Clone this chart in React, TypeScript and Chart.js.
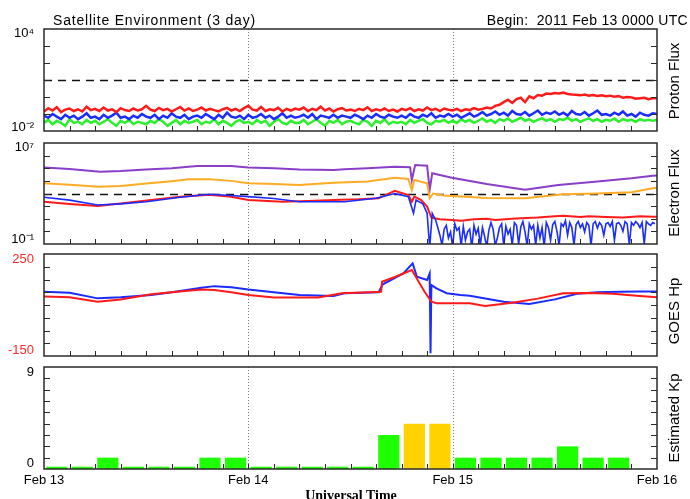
import React, { useEffect, useRef } from 'react';
import { Chart, registerables } from 'chart.js';

Chart.register(...registerables);

const FONT = "'Liberation Sans', Arial, sans-serif";

// ===== Time axis: hours since 2011 Feb 13 00 UT =====
const DAY_HOURS = [0, 24, 48, 72];
const DAY_LABELS = ['Feb 13', 'Feb 14', 'Feb 15', 'Feb 16'];
const DAY_LINES = [24, 48];
const MINOR_TICK_HOURS = [3, 6, 9, 12, 15, 18, 21, 24, 27, 30, 33, 36, 39, 42, 45, 48, 51, 54, 57, 60, 63, 66, 69];
const SAMPLE_STEP_H = 0.5;

// ===== Panel 1: Proton flux (pfu), half-hourly from 00 UT Feb 13 =====
const protonTicks = [0.01, 0.1, 1, 10, 100, 1000, 10000];
const protonThreshold = 10;
const protonRed = [
  0.14, 0.22, 0.16, 0.25, 0.13, 0.18, 0.21, 0.15, 0.19, 0.14, 0.27, 0.17,
  0.2, 0.15, 0.24, 0.16, 0.19, 0.13, 0.22, 0.17, 0.15, 0.21, 0.16, 0.19,
  0.3, 0.18, 0.15, 0.23, 0.17, 0.2, 0.14, 0.19, 0.26, 0.16, 0.21, 0.15,
  0.18, 0.24, 0.16, 0.2, 0.17, 0.14, 0.19, 0.23, 0.16, 0.2, 0.15, 0.22,
  0.3, 0.18, 0.16, 0.26, 0.15, 0.19, 0.17, 0.23, 0.14, 0.2, 0.16, 0.21,
  0.18, 0.24, 0.15, 0.2, 0.17, 0.27, 0.16, 0.21, 0.14, 0.19, 0.22, 0.16,
  0.18, 0.15, 0.2, 0.17, 0.25, 0.15, 0.19, 0.16, 0.21, 0.15, 0.18, 0.14,
  0.2, 0.17, 0.22, 0.15, 0.19, 0.16, 0.24, 0.17, 0.2, 0.15, 0.21, 0.18,
  0.16, 0.2, 0.15, 0.19, 0.17, 0.22, 0.18, 0.2, 0.24, 0.21, 0.3, 0.35,
  0.5, 0.7, 0.45, 0.75, 0.9, 0.5, 1.1, 0.85, 1.3, 1.2, 1.6, 1.5,
  1.7, 1.6, 1.8, 1.5, 1.4, 1.35, 1.25, 1.4, 1.2, 1.3, 1.15, 1.25,
  1.1, 1.2, 1.05, 1.15, 0.9, 1.0, 0.95, 0.8, 0.85, 0.9, 0.75, 0.85,
  0.85,
];
const protonBlue = [
  0.08, 0.06, 0.1, 0.07, 0.05, 0.09, 0.06, 0.08, 0.05, 0.07, 0.11, 0.06,
  0.07, 0.05, 0.09, 0.06, 0.08, 0.12, 0.06, 0.07, 0.05, 0.08, 0.06, 0.1,
  0.07, 0.06, 0.09, 0.05, 0.08, 0.06, 0.11, 0.07, 0.06, 0.09, 0.05, 0.07,
  0.08, 0.06, 0.1, 0.07, 0.05, 0.09, 0.06, 0.12, 0.07, 0.06, 0.08, 0.05,
  0.09, 0.06, 0.07, 0.1, 0.06, 0.08, 0.05, 0.07, 0.11, 0.06, 0.08, 0.06,
  0.07, 0.09, 0.06, 0.1, 0.05, 0.08, 0.07, 0.06, 0.09, 0.06, 0.08, 0.07,
  0.06, 0.09, 0.07, 0.05, 0.08, 0.06, 0.1, 0.07, 0.06, 0.09, 0.07, 0.06,
  0.08, 0.06, 0.1, 0.07, 0.06, 0.09, 0.07, 0.11, 0.06, 0.08, 0.07, 0.1,
  0.07, 0.09, 0.06, 0.08, 0.11, 0.07, 0.09, 0.13, 0.08, 0.1, 0.14, 0.09,
  0.12, 0.08, 0.15, 0.1, 0.09, 0.13, 0.08, 0.11, 0.16, 0.09, 0.12, 0.1,
  0.14, 0.09, 0.12, 0.08, 0.15, 0.1, 0.09, 0.13, 0.08, 0.11, 0.16, 0.09,
  0.1, 0.08, 0.12, 0.09, 0.14, 0.08, 0.1, 0.07, 0.12, 0.09, 0.08, 0.11,
  0.1,
];
const protonGreen = [
  0.03, 0.045, 0.025, 0.04, 0.03, 0.02, 0.05, 0.03, 0.035, 0.025, 0.045, 0.03,
  0.04, 0.025, 0.035, 0.05, 0.03, 0.02, 0.04, 0.03, 0.045, 0.025, 0.035, 0.03,
  0.025, 0.04, 0.03, 0.05, 0.035, 0.02, 0.03, 0.045, 0.025, 0.04, 0.03, 0.035,
  0.045, 0.025, 0.035, 0.03, 0.05, 0.025, 0.04, 0.03, 0.02, 0.035, 0.045, 0.03,
  0.035, 0.025, 0.045, 0.03, 0.04, 0.02, 0.035, 0.05, 0.03, 0.025, 0.04, 0.03,
  0.03, 0.045, 0.025, 0.035, 0.05, 0.03, 0.02, 0.04, 0.03, 0.045, 0.025, 0.035,
  0.04, 0.03, 0.025, 0.045, 0.035, 0.02, 0.04, 0.03, 0.05, 0.025, 0.035, 0.03,
  0.035, 0.025, 0.045, 0.03, 0.04, 0.05, 0.03, 0.025, 0.04, 0.035, 0.045, 0.03,
  0.04, 0.03, 0.05, 0.035, 0.045, 0.03, 0.04, 0.055, 0.035, 0.045, 0.03, 0.05,
  0.04, 0.055, 0.035, 0.045, 0.06, 0.04, 0.05, 0.035, 0.045, 0.055, 0.04, 0.05,
  0.035, 0.05, 0.045, 0.06, 0.04, 0.05, 0.035, 0.045, 0.055, 0.04, 0.05, 0.035,
  0.045, 0.04, 0.055, 0.035, 0.05, 0.04, 0.045, 0.035, 0.05, 0.04, 0.045, 0.04,
  0.045,
];

// ===== Panel 2: Electron flux =====
const electronTicks = [0.1, 1, 10, 100, 1000, 10000, 100000, 1000000, 10000000];
const electronThreshold = 1000;
const elecPurpleT = [0, 3, 6.6, 9, 12, 15, 18, 22, 24, 27, 30, 34, 35.3, 38, 41.2, 43, 43.2, 43.6, 45, 45.3, 45.6, 47.9, 52, 56.5, 60.4, 64.7, 69, 71.5, 72];
const elecPurpleV = [117000, 89000, 54000, 60000, 79000, 100000, 151000, 151000, 117000, 100000, 79000, 72000, 83000, 100000, 132000, 120000, 11700, 182000, 158000, 1900, 40000, 17800, 5600, 2000, 4700, 8700, 15800, 25700, 27000];
const elecOrangeT = [0, 3, 6.4, 9, 12, 15, 17, 19.5, 22, 24, 27, 30, 34, 38, 41.2, 42.8, 43.2, 43.5, 45, 45.3, 45.7, 47, 52, 56.5, 61, 65, 69, 71.5, 72];
const elecOrangeV = [6500, 5000, 3500, 4000, 6300, 9500, 13200, 13200, 10000, 6500, 5600, 4700, 7200, 8900, 17800, 14000, 1900, 11700, 6500, 420, 1000, 700, 450, 420, 870, 1000, 1260, 2570, 2800];
const elecRedT = [0, 3, 6.3, 9, 12.6, 16, 19.4, 22, 24, 28, 31, 34, 37, 39.3, 41.2, 42.8, 43.2, 43.5, 44.3, 45, 45.5, 46.5, 47.9, 49, 50.5, 52, 53, 55, 56, 58, 60, 61, 63, 64, 66, 68, 70, 71.5, 72];
const elecRedV = [224, 150, 102, 160, 309, 550, 794, 560, 309, 224, 250, 309, 350, 417, 1660, 760, 224, 560, 300, 91, 12.3, 9, 7.9, 7, 9, 10, 8, 10, 11, 12.6, 16, 17.4, 14, 16, 14, 12.6, 16, 14.5, 14.5];
const elecBlueT = [0, 3, 6.3, 9, 12, 16, 19.4, 22, 24, 27, 30, 34, 35.3, 39, 41.2, 42.8, 43.4, 43.7, 44.5, 45, 45.3, 45.6, 46];
const elecBlueV = [500, 300, 123, 150, 224, 500, 871, 700, 562, 400, 224, 224, 224, 417, 1000, 562, 27, 309, 150, 27, 0.05, 27, 8];
const BLUE_TAIL_START_H = 46.25;
const BLUE_TAIL_STEP_H = 0.25;
const elecBlueTail = [
  2, 0.5, 0.08, 1.5, 3, 0.3, 0.9, 0.06, 4, 1.2, 2, 0.07, 2.5, 0.2, 0.9, 1.5, 0.05, 3, 0.6, 1.8,
  0.08, 2, 0.4, 0.06, 1.2, 5, 1.5, 0.08, 0.3, 2, 4, 0.07, 2.5, 0.6, 1.5, 0.08, 5, 3, 0.1, 2.2,
  6, 0.9, 0.07, 4, 1.5, 3, 0.08, 3, 0.3, 2, 0.06, 5, 2, 0.2, 3.5, 6, 1, 0.08, 4, 2.5,
  7, 0.5, 5, 2, 0.08, 3.5, 6, 2, 4, 0.9, 5, 3, 0.07, 4, 6, 1.8, 5, 3, 0.5, 4,
  5, 2.5, 6, 0.2, 4, 5, 3, 1, 6, 4, 0.08, 5, 3, 6, 4, 2, 5, 0.1, 6, 4,
  3, 5, 4,
];

// ===== Panel 3: GOES Hp (nT) =====
const hpTicks = [-150, -100, -50, 0, 50, 100, 150, 200, 250];
const hpBlueT = [0, 3, 6.3, 9, 12.6, 15, 18.5, 20, 22, 24, 27, 30, 34, 35.3, 39.3, 39.8, 42.2, 43.3, 43.8, 45, 45.3, 45.4, 45.5, 46.1, 47.3, 48.9, 50, 54, 57, 60, 62.6, 65, 67.6, 70, 72];
const hpBlueV = [102, 98, 76, 80, 89, 100, 118, 124, 120, 111, 100, 89, 85, 96, 100, 131, 174, 213, 161, 148, 174, -139, 128, 115, 96, 89, 86, 63, 54, 72, 94, 100, 102, 103, 103];
const hpRedT = [0, 3, 6.3, 9, 12.6, 15, 18.5, 20, 22, 24, 27, 32.2, 35, 39.6, 39.7, 41.2, 43.2, 44.7, 45.5, 46.1, 50, 51.8, 55, 58, 61, 64, 66.8, 70, 72];
const hpRedV = [83, 80, 63, 72, 92, 100, 111, 109, 100, 89, 79, 79, 96, 102, 141, 160, 187, 102, 63, 57, 57, 46, 59, 75, 96, 97, 94, 85, 80];

// ===== Panel 4: Estimated Kp (3-hour intervals) =====
const kpTicks = [0, 1, 2, 3, 4, 5, 6, 7, 8, 9];
const KP_STEP_H = 3;
const kpValues = [
  0.2, 0.2, 1, 0.2, 0.2, 0.2, 1, 1,
  0.2, 0.2, 0.2, 0.2, 0.2, 3, 4, 4,
  1, 1, 1, 1, 2, 1, 1,
];

// ===== Colours =====
const RED = '#ff1a1a';
const BLUE = '#1a2cff';
const GREEN = '#2cf02c';
const PURPLE = '#8a3fc9';
const ORANGE = '#ffab24';
const KP_GREEN = '#1eff00';
const KP_YELLOW = '#ffd200';
const KP_RED = '#ff2020';

// ===== Layout =====
const W = 690;
const H = 499;
const PLOT_LEFT = 44;
const PLOT_RIGHT = 657;
const PANELS = [
  { top: 29, bottom: 131, labelInset: 8 },
  { top: 143, bottom: 244, labelInset: 9 },
  { top: 254, bottom: 356, labelInset: 11 },
  { top: 367, bottom: 469, labelInset: 11 },
];
const X_AXIS_H = 22;

const pairs = (t: number[], v: number[]) => t.map((h, i) => ({ x: h, y: v[i] }));
const series = (v: number[], start: number, step: number) => v.map((y, i) => ({ x: start + i * step, y }));

function framePlugin(yTicks: number[], threshold?: number) {
  return {
    id: 'frame',
    beforeDatasetsDraw(chart: any) {
      const { ctx, chartArea: a } = chart;
      const xs = chart.scales.x;
      const ys = chart.scales.y;
      ctx.save();
      ctx.beginPath();
      ctx.rect(a.left, a.top, a.right - a.left, a.bottom - a.top);
      ctx.clip();
      ctx.strokeStyle = '#7a7a7a';
      ctx.lineWidth = 1;
      ctx.setLineDash([1, 2]);
      for (const h of DAY_LINES) {
        const px = Math.round(xs.getPixelForValue(h)) + 0.5;
        ctx.beginPath();
        ctx.moveTo(px, a.top);
        ctx.lineTo(px, a.bottom);
        ctx.stroke();
      }
      if (threshold !== undefined) {
        const py = Math.round(ys.getPixelForValue(threshold)) + 0.5;
        ctx.strokeStyle = '#111';
        ctx.lineWidth = 1.3;
        ctx.setLineDash([8, 6]);
        ctx.beginPath();
        ctx.moveTo(a.left, py);
        ctx.lineTo(a.right, py);
        ctx.stroke();
      }
      ctx.restore();
    },
    afterDatasetsDraw(chart: any) {
      const { ctx, chartArea: a } = chart;
      const xs = chart.scales.x;
      const ys = chart.scales.y;
      ctx.save();
      ctx.strokeStyle = '#2a2a2a';
      ctx.lineWidth = 1;
      const ymin = ys.min;
      const ymax = ys.max;
      ctx.beginPath();
      for (const v of yTicks) {
        if (v <= ymin || v >= ymax) continue;
        const py = Math.round(ys.getPixelForValue(v)) + 0.5;
        ctx.moveTo(a.left, py);
        ctx.lineTo(a.left + 6, py);
        ctx.moveTo(a.right, py);
        ctx.lineTo(a.right - 6, py);
      }
      for (const h of MINOR_TICK_HOURS) {
        const px = Math.round(xs.getPixelForValue(h)) + 0.5;
        ctx.moveTo(px, a.bottom);
        ctx.lineTo(px, a.bottom - 5);
      }
      ctx.stroke();
      ctx.lineWidth = 1.5;
      ctx.strokeRect(Math.round(a.left), Math.round(a.top), Math.round(a.right - a.left), Math.round(a.bottom - a.top));
      ctx.restore();
    },
  };
}

// End labels only; the empty companion line nudges each end label inward like the original plot.
function endLabel(ticksArr: number[], fmt: (v: number) => string) {
  const lo = ticksArr[0];
  const hi = ticksArr[ticksArr.length - 1];
  return (v: number) => {
    if (v === hi) return ['', fmt(v)];
    if (v === lo) return [fmt(v), ''];
    return '';
  };
}

function baseOptions(panelIndex: number, y: any, showX: boolean) {
  const p = PANELS[panelIndex];
  return {
    responsive: false,
    animation: false,
    devicePixelRatio: 1,
    events: [],
    layout: {
      padding: {
        top: p.top,
        bottom: H - p.bottom - (showX ? X_AXIS_H : 0),
        left: 0,
        right: W - PLOT_RIGHT,
      },
    },
    plugins: { legend: { display: false }, tooltip: { enabled: false }, title: { display: false } },
    scales: {
      x: {
        type: 'linear',
        min: 0,
        max: 72,
        offset: false,
        display: showX,
        grid: { display: false, drawTicks: false },
        border: { display: false },
        afterBuildTicks: (s: any) => {
          s.ticks = DAY_HOURS.map((v) => ({ value: v }));
        },
        afterFit: (s: any) => {
          s.height = showX ? X_AXIS_H : 0;
        },
        ticks: {
          autoSkip: false,
          maxRotation: 0,
          minRotation: 0,
          padding: 4,
          color: '#000',
          font: { family: FONT, size: 13 },
          callback: (v: number) => {
            const i = DAY_HOURS.indexOf(v);
            return i >= 0 ? DAY_LABELS[i] : '';
          },
        },
      },
      y: {
        position: 'left',
        grid: { display: false, drawTicks: false },
        border: { display: false },
        afterFit: (s: any) => {
          s.width = PLOT_LEFT;
        },
        ...y,
        ticks: {
          autoSkip: false,
          padding: 10,
          color: '#000',
          font: { family: FONT, size: 13, lineHeight: `${p.labelInset}px` },
          ...(y.ticks || {}),
        },
      },
    },
  };
}

const SUP: Record<string, string> = { '-': '⁻', '0': '⁰', '1': '¹', '2': '²', '3': '³', '4': '⁴', '5': '⁵', '6': '⁶', '7': '⁷', '8': '⁸', '9': '⁹' };
const pow10Label = (v: number) => {
  const e = Math.round(Math.log10(v));
  return '10' + String(e).split('').map((c) => SUP[c]).join('');
};

const lineDs = (data: any[], color: string, width = 2) => ({
  data,
  borderColor: color,
  backgroundColor: color,
  borderWidth: width,
  pointRadius: 0,
  tension: 0,
  fill: false,
});

export default function App() {
  const c1 = useRef<HTMLCanvasElement>(null);
  const c2 = useRef<HTMLCanvasElement>(null);
  const c3 = useRef<HTMLCanvasElement>(null);
  const c4 = useRef<HTMLCanvasElement>(null);

  useEffect(() => {
    const charts: Chart[] = [];

    // Panel 1: proton flux
    charts.push(
      new Chart(c1.current as HTMLCanvasElement, {
        type: 'line',
        data: {
          datasets: [
            lineDs(series(protonRed, 0, SAMPLE_STEP_H), RED, 2.5),
            lineDs(series(protonBlue, 0, SAMPLE_STEP_H), BLUE, 2.5),
            lineDs(series(protonGreen, 0, SAMPLE_STEP_H), GREEN, 2.5),
          ],
        },
        options: baseOptions(0, {
          type: 'logarithmic',
          min: protonTicks[0],
          max: protonTicks[protonTicks.length - 1],
          afterBuildTicks: (s: any) => {
            s.ticks = protonTicks.map((v) => ({ value: v }));
          },
          ticks: { callback: endLabel(protonTicks, pow10Label) },
        }, false) as any,
        plugins: [framePlugin(protonTicks, protonThreshold)],
      })
    );

    // Panel 2: electron flux
    charts.push(
      new Chart(c2.current as HTMLCanvasElement, {
        type: 'line',
        data: {
          datasets: [
            lineDs([...pairs(elecBlueT, elecBlueV), ...series(elecBlueTail, BLUE_TAIL_START_H, BLUE_TAIL_STEP_H)], BLUE, 1.6),
            lineDs(pairs(elecRedT, elecRedV), RED),
            lineDs(pairs(elecOrangeT, elecOrangeV), ORANGE),
            lineDs(pairs(elecPurpleT, elecPurpleV), PURPLE),
          ],
        },
        options: baseOptions(1, {
          type: 'logarithmic',
          min: electronTicks[0],
          max: electronTicks[electronTicks.length - 1],
          afterBuildTicks: (s: any) => {
            s.ticks = electronTicks.map((v) => ({ value: v }));
          },
          ticks: { callback: endLabel(electronTicks, pow10Label) },
        }, false) as any,
        plugins: [framePlugin(electronTicks, electronThreshold)],
      })
    );

    // Panel 3: GOES Hp
    charts.push(
      new Chart(c3.current as HTMLCanvasElement, {
        type: 'line',
        data: {
          datasets: [
            lineDs(pairs(hpRedT, hpRedV), RED),
            lineDs(pairs(hpBlueT, hpBlueV), BLUE),
          ],
        },
        options: baseOptions(2, {
          type: 'linear',
          min: hpTicks[0],
          max: hpTicks[hpTicks.length - 1],
          afterBuildTicks: (s: any) => {
            s.ticks = hpTicks.map((v) => ({ value: v }));
          },
          ticks: { color: '#ff2a2a', callback: endLabel(hpTicks, (v) => String(v)) },
        }, false) as any,
        plugins: [framePlugin(hpTicks)],
      })
    );

    // Panel 4: Estimated Kp
    charts.push(
      new Chart(c4.current as HTMLCanvasElement, {
        type: 'bar',
        data: {
          datasets: [
            {
              data: series(kpValues, KP_STEP_H / 2, KP_STEP_H),
              backgroundColor: kpValues.map((v) => (v >= 5 ? KP_RED : v >= 4 ? KP_YELLOW : KP_GREEN)),
              borderWidth: 0,
              categoryPercentage: 1,
              barPercentage: 0.83,
            },
          ],
        },
        options: baseOptions(3, {
          type: 'linear',
          min: kpTicks[0],
          max: kpTicks[kpTicks.length - 1],
          afterBuildTicks: (s: any) => {
            s.ticks = kpTicks.map((v) => ({ value: v }));
          },
          ticks: { callback: endLabel(kpTicks, (v) => String(v)) },
        }, true) as any,
        plugins: [framePlugin(kpTicks)],
      })
    );

    return () => {
      charts.forEach((c) => c.destroy());
    };
  }, []);

  const canvasStyle: React.CSSProperties = { position: 'absolute', left: 0, top: 0, width: W, height: H };
  const sideTitle = (text: string, cy: number): React.ReactNode => (
    <div
      style={{
        position: 'absolute',
        left: 673,
        top: cy,
        transform: 'translate(-50%, -50%) rotate(-90deg)',
        whiteSpace: 'nowrap',
        fontFamily: FONT,
        fontSize: 15,
        lineHeight: '15px',
        color: '#000',
      }}
    >
      {text}
    </div>
  );

  return (
    <div
      style={{
        position: 'absolute',
        left: 0,
        top: 0,
        width: W,
        height: H,
        overflow: 'hidden',
        background: '#fff',
      }}
    >
      <canvas ref={c1} width={W} height={H} style={canvasStyle} />
      <canvas ref={c2} width={W} height={H} style={canvasStyle} />
      <canvas ref={c3} width={W} height={H} style={canvasStyle} />
      <canvas ref={c4} width={W} height={H} style={canvasStyle} />
      <div
        style={{
          position: 'absolute',
          left: 53,
          top: 13,
          fontFamily: FONT,
          fontSize: 14,
          lineHeight: '14px',
          letterSpacing: '0.8px',
          whiteSpace: 'nowrap',
          color: '#000',
        }}
      >
        Satellite Environment (3 day)
      </div>
      <div
        style={{
          position: 'absolute',
          right: 2,
          top: 13,
          fontFamily: FONT,
          fontSize: 14,
          lineHeight: '14px',
          letterSpacing: '0.3px',
          whiteSpace: 'pre',
          color: '#000',
        }}
      >
        {'Begin:  2011 Feb 13 0000 UTC'}
      </div>
      {sideTitle('Proton Flux', 81)}
      {sideTitle('Electron Flux', 193)}
      {sideTitle('GOES Hp', 311)}
      {sideTitle('Estimated Kp', 418)}
      <div
        style={{
          position: 'absolute',
          left: 351,
          top: 489,
          transform: 'translateX(-50%)',
          fontFamily: "'Liberation Serif', 'Times New Roman', serif",
          fontWeight: 'bold',
          fontSize: 14,
          lineHeight: '14px',
          whiteSpace: 'nowrap',
          color: '#000',
        }}
      >
        Universal Time
      </div>
    </div>
  );
}
